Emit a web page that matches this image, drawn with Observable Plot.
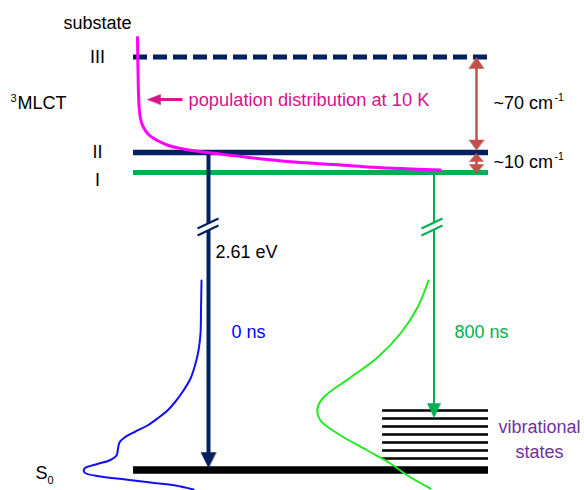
<!DOCTYPE html>
<html><head><meta charset="utf-8">
<script src="https://cdn.jsdelivr.net/npm/d3@7"></script>
<script src="https://cdn.jsdelivr.net/npm/@observablehq/plot@0.6"></script>
<style>body{margin:0;background:#fff} svg{display:block}</style>
</head><body><div id="chart"></div>
<script>
// Diagram coordinate frame: x to the right, y downward (energy-level diagram)
const NAVY = "#002060", GREEN = "#00B050", RED = "#C0504D", PURPLE = "#7030A0";

// Energy levels
const levelNames = ["III", "II", "I", "S0"];
const levelY     = [56.5, 152, 172, 469.5];
const levelColor = [NAVY, NAVY, GREEN, "#000000"];
const levelWidth = [5, 5.5, 5, 7.5];
const levelX     = [133, 488];

// Vibrational states of S0
const vibY = [410, 418, 426, 434, 442, 450, 458];
const vibX = [382, 488];

// Population distribution at 10 K (magenta)
const popX = [137, 137.5, 138.5, 140, 143, 149, 157, 168, 183, 207, 233, 267, 300, 333, 367, 400, 440];
const popY = [37, 70, 105, 118, 127, 135, 140, 145, 148.5, 152, 155, 159, 162, 164, 166.5, 168, 169.5];

// Emission spectrum at 0 ns (blue)
const blueX = [201, 200.5, 200, 198, 195, 190, 183, 175, 167, 157, 147, 135, 124, 119, 117.5, 116, 110, 97, 84, 84, 100, 125, 150, 175, 193];
const blueY = [280, 310, 333, 350, 363, 378, 390, 401, 410, 418, 425, 431, 437, 442, 448, 455, 459.5, 463.5, 468, 472, 476, 479, 482, 485, 489];

// Emission spectrum at 800 ns (green)
const grnX = [428, 417, 400, 377, 350, 323, 317, 320, 337, 367, 390, 407, 430];
const grnY = [280, 307, 333, 357, 377, 397, 408, 420, 433, 450, 463, 475, 488];

// Arrows: shaft (x1,y1,x2,y2), colour, width
const arrows = [
  {x1: 208, y1: 152, x2: 208, y2: 453, c: NAVY, w: 4},
  {x1: 433.5, y1: 172, x2: 433.5, y2: 405, c: GREEN, w: 2},
  {x1: 476, y1: 66, x2: 476, y2: 141, c: RED, w: 2.5},
  {x1: 476, y1: 158, x2: 476, y2: 166, c: RED, w: 2.5},
  {x1: 182, y1: 99, x2: 158, y2: 99, c: "#D6168C", w: 3}
];
// Arrowheads: tip, direction (dx,dy), length, width
const heads = [
  {x: 208, y: 467, dx: 0, dy: 1, len: 15, wid: 15, c: NAVY},
  {x: 433.5, y: 417, dx: 0, dy: 1, len: 14, wid: 13, c: GREEN},
  {x: 476, y: 57, dx: 0, dy: -1, len: 11, wid: 15, c: RED},
  {x: 476, y: 149.5, dx: 0, dy: 1, len: 10, wid: 15, c: RED},
  {x: 476, y: 153, dx: 0, dy: -1, len: 8, wid: 14, c: RED},
  {x: 476, y: 173, dx: 0, dy: 1, len: 9, wid: 14, c: RED},
  {x: 147, y: 99, dx: -1, dy: 0, len: 13, wid: 10, c: "#D6168C"}
];
const headPts = heads.flatMap((h, i) => {
  const bx = h.x - h.dx * h.len, by = h.y - h.dy * h.len;
  const px = -h.dy * h.wid / 2, py = h.dx * h.wid / 2;
  return [
    {id: i, x: h.x, y: h.y, c: h.c},
    {id: i, x: bx + px, y: by + py, c: h.c},
    {id: i, x: bx - px, y: by - py, c: h.c}
  ];
});

// Axis-break marks on the two transition arrows
const breaks = [
  {x: 208, top: 223, bot: 229.5, c: NAVY, x1: 197, x2: 218},
  {x: 433.5, top: 222.5, bot: 228.5, c: GREEN, x1: 421, x2: 442}
];
const slashes = breaks.flatMap(b => [
  {x1: b.x1, y1: 228, x2: b.x2, y2: 218, c: b.c},
  {x1: b.x1, y1: 235, x2: b.x2, y2: 225, c: b.c}
]);

// Texts (y = baseline)
const labels = [
  {t: "substate", x: 63, y: 28, c: "#000", s: 18, a: "start"},
  {t: "MLCT", x: 17, y: 108, c: "#000", s: 18, a: "start"},
  {t: "population distribution at 10 K", x: 188, y: 105, c: "#D4148C", s: 18.3, a: "start"},
  {t: "~70 cm", x: 493, y: 108, c: "#000", s: 18, a: "start"},
  {t: "~10 cm", x: 493, y: 167, c: "#000", s: 18, a: "start"},
  {t: "2.61 eV", x: 215, y: 257, c: "#000", s: 18, a: "start"},
  {t: "0 ns", x: 231, y: 337, c: "#0000FF", s: 18, a: "start"},
  {t: "800 ns", x: 454, y: 337, c: GREEN, s: 18, a: "start"},
  {t: "S", x: 35, y: 478, c: "#000", s: 18, a: "start"},
  {t: "3", x: 10, y: 101, c: "#000", s: 11, a: "start"},
  {t: "-1", x: 554, y: 100, c: "#000", s: 10.5, a: "start"},
  {t: "-1", x: 554, y: 159, c: "#000", s: 10.5, a: "start"},
  {t: "0", x: 47, y: 483, c: "#000", s: 11, a: "start"}
];
const centered = [
  {t: "III", x: 97, y: 62.5},
  {t: "II", x: 97, y: 157.5},
  {t: "I", x: 97, y: 185},
  {t: "vibrational", x: 539, y: 432, c: PURPLE},
  {t: "states", x: 539, y: 457.5, c: PURPLE}
];

const levels = levelNames.map((n, i) => ({n, y: levelY[i], c: levelColor[i], w: levelWidth[i]}));
const toPts = (xs, ys) => xs.map((x, i) => ({x, y: ys[i]}));
const font = "'Liberation Sans', Arial, sans-serif";

const chart = Plot.plot({
  width: 584, height: 490, margin: 0,
  x: {domain: [0, 584], axis: null},
  y: {domain: [490, 0], axis: null},
  style: {background: "#fff", fontFamily: font},
  marks: [
    Plot.ruleY(levels.filter(d => d.n !== "III"), {y: "y", x1: levelX[0], x2: levelX[1], stroke: "c", strokeWidth: "w"}),
    Plot.ruleY(levels.filter(d => d.n === "III"), {y: "y", x1: levelX[0], x2: levelX[1], stroke: "c", strokeWidth: "w", strokeDasharray: "14,6"}),
    Plot.ruleY(vibY, {y: d => d, x1: vibX[0], x2: vibX[1], stroke: "#000", strokeWidth: 2.6}),
    Plot.link(arrows, {x1: "x1", y1: "y1", x2: "x2", y2: "y2", stroke: "c", strokeWidth: "w"}),
    Plot.line(headPts, {x: "x", y: "y", z: "id", fill: "c", stroke: "c", strokeWidth: 0.5, curve: "linear-closed"}),
    Plot.link(breaks, {x1: "x", y1: "top", x2: "x", y2: "bot", stroke: "#fff", strokeWidth: 6}),
    Plot.link(slashes, {x1: "x1", y1: "y1", x2: "x2", y2: "y2", stroke: "c", strokeWidth: 2}),
    Plot.line(toPts(popX, popY), {x: "x", y: "y", stroke: "#FF00FF", strokeWidth: 3, curve: "catmull-rom"}),
    Plot.line(toPts(blueX, blueY), {x: "x", y: "y", stroke: "#1010F0", strokeWidth: 2, curve: "catmull-rom"}),
    Plot.line(toPts(grnX, grnY), {x: "x", y: "y", stroke: "#22E822", strokeWidth: 2, curve: "catmull-rom"}),
    Plot.text(labels, {x: "x", y: "y", text: "t", fill: "c", fontSize: "s", textAnchor: "start", lineAnchor: "bottom"}),
    Plot.text(centered, {x: "x", y: "y", text: "t", fill: d => d.c || "#000", fontSize: 18, textAnchor: "middle", lineAnchor: "bottom"})
  ]
});
document.getElementById("chart").appendChild(chart);
</script>
</body></html>
